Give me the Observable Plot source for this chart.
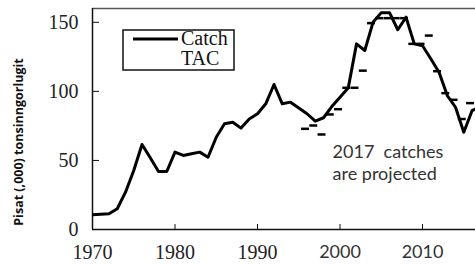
<!DOCTYPE html>
<html>
<head>
<meta charset="utf-8">
<script src="https://cdn.jsdelivr.net/npm/d3@7"></script>
<script src="https://cdn.jsdelivr.net/npm/@observablehq/plot@0.6"></script>
<style>
  html, body { margin: 0; padding: 0; background: #fff; overflow: hidden; }
  #chart { position: relative; width: 475px; height: 264px; }
</style>
</head>
<body>
<div id="chart"></div>
<script>
// ---- data ----
const years = d3.range(1970, 2018);
const catches = [10.6, 11, 11.4, 15, 27, 42.7, 61.5, 52, 42, 42,
                 56, 53.6, 54.8, 56, 52.3, 66.8, 76.5, 77.7, 73.4, 80,
                 83.8, 91, 105, 91, 92.2, 88, 83.8, 78.4, 80.9, 89,
                 95.8, 102.6, 134.4, 129.6, 150, 157, 157, 144.6, 153.7, 134.4,
                 133, 123.6, 113.9, 97, 88.5, 70.4, 86, 89];
const tacYears = d3.range(1996, 2017);
const tacValues = [72.9, 75.3, 68.8, 83.3, 87.1, 102.6, 102.6, 115, 149.4, 153,
                   153, 153, 153, 134.4, 134.4, 140.4, 114.6, 98.7, 93.9, 80, 91.5];
const yTicks = [0, 50, 100, 150];
const xTicksSerif = [1970, 1980, 1990];
const xTicksSans = [2000, 2010];
const legendLabels = ["Catch", "TAC"];
const yLabel = "Pisat (,000) tonsinngorlugit";
const noteLines = ["2017  catches", "are projected"];
const note = [{year: 1999.1, value: 62.8, text: noteLines.join("\n")}];

const catchData = years.map((y, i) => ({year: y, value: catches[i]}));
const tacData = tacYears.map((y, i) => ({year: y, value: tacValues[i]}));

const serif = "'Liberation Serif', 'Times New Roman', serif";
const sans = "Lato, 'Open Sans', sans-serif";

const plot = Plot.plot({
  width: 475,
  height: 264,
  marginLeft: 92,
  marginRight: 0,
  marginTop: 8,
  marginBottom: 35,
  style: {background: "white", fontFamily: serif, overflow: "hidden"},
  x: {domain: [1970, 2016.42], label: null},
  y: {domain: [0, 160], label: null},
  marks: [
    // frame lines
    Plot.ruleY([160], {stroke: "#555", strokeWidth: 1.5}),
    Plot.ruleX([1970], {stroke: "#111", strokeWidth: 1.5}),
    Plot.ruleY([0], {stroke: "#111", strokeWidth: 1.5}),
    // ticks (inward)
    Plot.axisY({ticks: yTicks, tickSize: -7, tickFormat: () => "", stroke: "#111", label: null}),
    Plot.axisY({ticks: yTicks, tickSize: 0, tickPadding: 14, fontSize: 20, fontFamily: serif, fill: "#222", label: null}),
    Plot.axisX({ticks: [...xTicksSerif, ...xTicksSans], tickSize: -5, tickFormat: () => "", stroke: "#111", label: null}),
    Plot.axisX({ticks: xTicksSerif, tickSize: 0, tickPadding: 14.8, fontSize: 20, fontFamily: serif, fill: "#222", tickFormat: d => String(d), label: null}),
    Plot.axisX({ticks: xTicksSans, tickSize: 0, tickPadding: 16, fontSize: 18, fontFamily: sans, fill: "#333", tickFormat: d => String(d), label: null}),
    // TAC dashes
    Plot.ruleY(tacData, {y: "value", x1: d => d.year - 0.48, x2: d => d.year + 0.48, dx: -1.5, stroke: "#000", strokeWidth: 2.5, clip: true}),
    // catch line
    Plot.line(catchData, {x: "year", y: "value", stroke: "#000", strokeWidth: 3, strokeLinejoin: "round", clip: true}),
    // annotation
    Plot.text(note, {x: "year", y: "value", text: "text", textAnchor: "start", lineAnchor: "top", lineHeight: 1.22, fontSize: 18, fontFamily: sans, fill: "#333"})
  ]
});

document.getElementById("chart").appendChild(plot);

// legend + y label drawn into the svg
const svg = d3.select(plot);
const lg = svg.append("g").attr("text-anchor", "start");
lg.append("rect").attr("x", 123).attr("y", 30).attr("width", 111).attr("height", 40)
  .attr("fill", "white").attr("stroke", "#111").attr("stroke-width", 1.5);
lg.append("line").attr("x1", 133).attr("x2", 178).attr("y1", 39).attr("y2", 39)
  .attr("stroke", "#000").attr("stroke-width", 3);
lg.selectAll("text.lab").data(legendLabels).join("text")
  .attr("x", 181).attr("y", (d, i) => 45 + i * 20)
  .attr("text-anchor", "start")
  .attr("font-family", serif).attr("font-size", 20).attr("fill", "#111")
  .text(d => d);

svg.append("text")
  .attr("transform", "translate(23,142) rotate(-90)")
  .attr("text-anchor", "middle")
  .attr("font-family", "'Open Sans', sans-serif").attr("font-weight", 700)
  .attr("font-size", 12.5).attr("fill", "#111")
  .text(yLabel);
</script>
</body>
</html>
